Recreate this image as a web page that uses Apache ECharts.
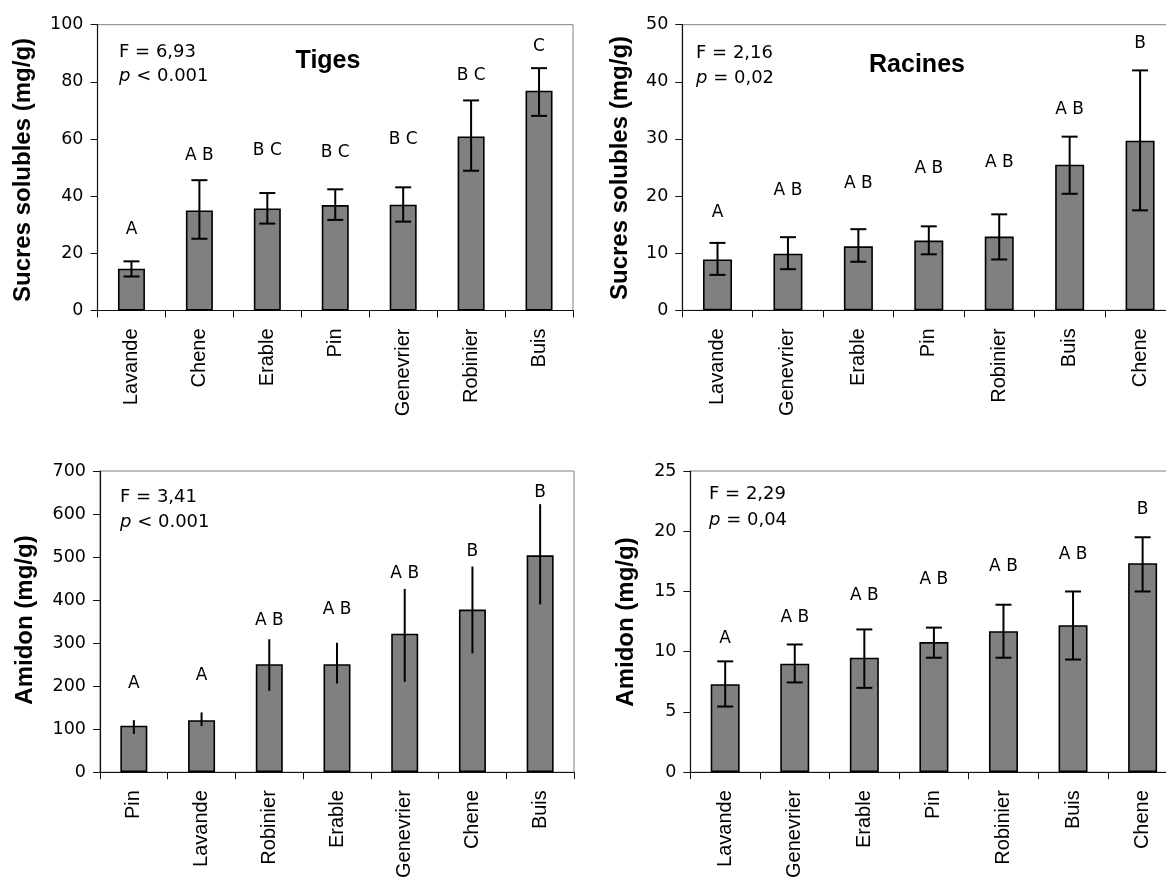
<!DOCTYPE html>
<html>
<head>
<meta charset="utf-8">
<script src="https://cdn.jsdelivr.net/npm/echarts@6/dist/echarts.min.js"></script>
<style>
html,body{margin:0;padding:0;background:#fff;overflow:hidden;width:1166px;height:881px;}
#chart{width:1200px;height:881px;}
</style>
</head>
<body>
<div id="chart"></div>
<script>
// Panel 1: Sucres solubles – Tiges
const catsSugarStem = ['Lavande','Chene','Erable','Pin','Genevrier','Robinier','Buis'];
const meanSugarStem = [14.6, 35.0, 35.7, 36.9, 37.0, 60.9, 76.9];
const hiSugarStem   = [17.2, 45.6, 41.1, 42.4, 43.1, 73.5, 84.8];
const loSugarStem   = [11.9, 25.1, 30.4, 31.7, 31.1, 48.9, 68.1];
const grpSugarStem  = ['A','A B','B C','B C','B C','B C','C'];
const grpYSugarStem = [28.3, 54.3, 55.8, 55.3, 59.8, 82.1, 92.3];

// Panel 2: Sucres solubles – Racines
const catsSugarRoot = ['Lavande','Genevrier','Erable','Pin','Robinier','Buis','Chene'];
const meanSugarRoot = [8.9, 9.9, 11.2, 12.2, 12.9, 25.5, 29.7];
const hiSugarRoot   = [11.8, 12.8, 14.2, 14.7, 16.8, 30.4, 42.0];
const loSugarRoot   = [6.2, 7.2, 8.5, 9.8, 8.9, 20.4, 17.5];
const grpSugarRoot  = ['A','A B','A B','A B','A B','A B','B'];
const grpYSugarRoot = [17.1, 20.9, 22.2, 24.8, 25.9, 35.2, 46.7];

// Panel 3: Amidon – Tiges
const catsStarchStem = ['Pin','Lavande','Robinier','Erable','Genevrier','Chene','Buis'];
const meanStarchStem = [108, 121, 251, 251, 322, 378, 504];
const hiStarchStem   = [121, 139, 309, 301, 426, 478, 623];
const loStarchStem   = [89, 107, 189, 206, 210, 276, 390];
const grpStarchStem  = ['A','A','A B','A B','A B','B','B'];
const grpYStarchStem = [206, 224, 352, 378, 461, 512, 650];

// Panel 4: Amidon – Racines
const catsStarchRoot = ['Lavande','Genevrier','Erable','Pin','Robinier','Buis','Chene'];
const meanStarchRoot = [7.3, 9.0, 9.5, 10.8, 11.7, 12.2, 17.35];
const hiStarchRoot   = [9.2, 10.6, 11.85, 12.0, 13.9, 15.0, 19.5];
const loStarchRoot   = [5.45, 7.45, 7.0, 9.5, 9.5, 9.35, 15.0];
const grpStarchRoot  = ['A','A B','A B','A B','A B','A B','B'];
const grpYStarchRoot = [11.05, 12.85, 14.7, 16.0, 17.07, 18.1, 21.8];

// Axis tick settings
const yMax = [100, 50, 700, 25];
const yInterval = [20, 10, 100, 5];

const panels = [
  {cats: catsSugarStem, mean: meanSugarStem, hi: hiSugarStem, lo: loSugarStem, grp: grpSugarStem, grpY: grpYSugarStem, caps: true},
  {cats: catsSugarRoot, mean: meanSugarRoot, hi: hiSugarRoot, lo: loSugarRoot, grp: grpSugarRoot, grpY: grpYSugarRoot, caps: true},
  {cats: catsStarchStem, mean: meanStarchStem, hi: hiStarchStem, lo: loStarchStem, grp: grpStarchStem, grpY: grpYStarchStem, caps: false},
  {cats: catsStarchRoot, mean: meanStarchRoot, hi: hiStarchRoot, lo: loStarchRoot, grp: grpStarchRoot, grpY: grpYStarchRoot, caps: true}
];

const grids = [
  {left: 97.5, top: 24.7, width: 475.5, height: 285.8},
  {left: 682.3, top: 24.7, width: 493, height: 285.6},
  {left: 100, top: 471, width: 474, height: 303.5},
  {left: 690.4, top: 471, width: 487, height: 302}
];
const barWidths = [27, 29, 27, 29];

const smallFont = '"DejaVu Sans", sans-serif';
const armFont = '"Liberation Sans", Arial, sans-serif';

const option = {
  backgroundColor: '#fff',
  animation: false,
  grid: grids.map(g => Object.assign({show: true, borderColor: '#808080', borderWidth: 1, backgroundColor: 'transparent', containLabel: false}, g)),
  xAxis: panels.map((p, i) => ({
    type: 'category', gridIndex: i, data: p.cats,
    axisLine: {show: true, lineStyle: {color: '#111', width: 1.2}},
    axisTick: {show: true, inside: false, length: 7, alignWithLabel: false, lineStyle: {color: '#111', width: 1}},
    axisLabel: {show: true, interval: 0, rotate: 90, margin: 18, color: '#000', fontSize: 20, fontFamily: armFont},
    splitLine: {show: false}
  })),
  yAxis: panels.map((p, i) => ({
    type: 'value', gridIndex: i, min: 0, max: yMax[i], interval: yInterval[i],
    axisLine: {show: true, lineStyle: {color: '#111', width: 1.2}},
    axisTick: {show: true, inside: false, length: 7, lineStyle: {color: '#111', width: 1}},
    axisLabel: {show: true, margin: 14, color: '#000', fontSize: 17.5, fontFamily: smallFont},
    splitLine: {show: false}
  })),
  series: [],
  graphic: []
};

panels.forEach((p, i) => {
  option.series.push({
    type: 'bar', xAxisIndex: i, yAxisIndex: i, data: p.mean, barWidth: barWidths[i],
    itemStyle: {color: '#808080', borderColor: '#000', borderWidth: 1.6},
    z: 2
  });
  const caps = p.caps;
  option.series.push({
    type: 'custom', xAxisIndex: i, yAxisIndex: i, z: 4,
    data: p.cats.map((c, k) => [k, p.lo[k], p.hi[k]]),
    encode: {x: 0, y: [1, 2]},
    renderItem: function (params, api) {
      const x = api.value(0);
      const lo = api.coord([x, api.value(1)]);
      const hi = api.coord([x, api.value(2)]);
      const hw = 8;
      const st = {stroke: '#000', lineWidth: 2};
      const children = [{type: 'line', shape: {x1: lo[0], y1: lo[1], x2: hi[0], y2: hi[1]}, style: st}];
      if (caps) {
        children.push({type: 'line', shape: {x1: hi[0] - hw, y1: hi[1], x2: hi[0] + hw, y2: hi[1]}, style: st});
        children.push({type: 'line', shape: {x1: lo[0] - hw, y1: lo[1], x2: lo[0] + hw, y2: lo[1]}, style: st});
      }
      return {type: 'group', children: children};
    }
  });
  option.series.push({
    type: 'custom', xAxisIndex: i, yAxisIndex: i, z: 5,
    data: p.cats.map((c, k) => [k, p.grpY[k], p.grp[k]]),
    encode: {x: 0, y: 1},
    renderItem: function (params, api) {
      const k = api.value(0);
      const pt = api.coord([k, api.value(1)]);
      return {type: 'text', x: pt[0], y: pt[1], style: {text: p.grp[k], align: 'center', verticalAlign: 'middle', fill: '#000', font: '17px ' + smallFont}};
    }
  });
});

// Statistics annotations
const stats = [
  {x: 119, y1: 52, y2: 76, f: 'F = 6,93', rest: ' < 0.001'},
  {x: 696, y1: 53, y2: 78, f: 'F = 2,16', rest: ' = 0,02'},
  {x: 120, y1: 497, y2: 522, f: 'F = 3,41', rest: ' < 0.001'},
  {x: 709, y1: 494, y2: 520, f: 'F = 2,29', rest: ' = 0,04'}
];
stats.forEach(s => {
  option.graphic.push({type: 'text', x: s.x, y: s.y1, z: 10, style: {text: s.f, font: '18px ' + smallFont, fill: '#000', verticalAlign: 'middle', align: 'left'}});
  option.graphic.push({type: 'text', x: s.x, y: s.y2, z: 10, style: {
    text: '{i|p}{n|' + s.rest + '}', verticalAlign: 'middle', align: 'left',
    rich: {i: {font: 'italic 18px ' + smallFont, fill: '#000'}, n: {font: '18px ' + smallFont, fill: '#000'}}
  }});
});

// Panel titles
option.graphic.push({type: 'text', x: 328, y: 61, z: 10, style: {text: 'Tiges', font: 'bold 25px ' + armFont, fill: '#000', align: 'center', verticalAlign: 'middle'}});
option.graphic.push({type: 'text', x: 917, y: 65, z: 10, style: {text: 'Racines', font: 'bold 25px ' + armFont, fill: '#000', align: 'center', verticalAlign: 'middle'}});

// Y-axis titles
const yTitles = [
  {x: 23, y: 170, t: 'Sucres solubles (mg/g)'},
  {x: 620, y: 168, t: 'Sucres solubles (mg/g)'},
  {x: 25, y: 620, t: 'Amidon (mg/g)'},
  {x: 626, y: 622, t: 'Amidon (mg/g)'}
];
yTitles.forEach(t => {
  option.graphic.push({type: 'text', x: t.x, y: t.y, rotation: Math.PI / 2, z: 10,
    style: {text: t.t, font: 'bold 24px ' + armFont, fill: '#000', align: 'center', verticalAlign: 'middle'}});
});

const chart = echarts.init(document.getElementById('chart'), null, {renderer: 'canvas'});
chart.setOption(option);
</script>
</body>
</html>
